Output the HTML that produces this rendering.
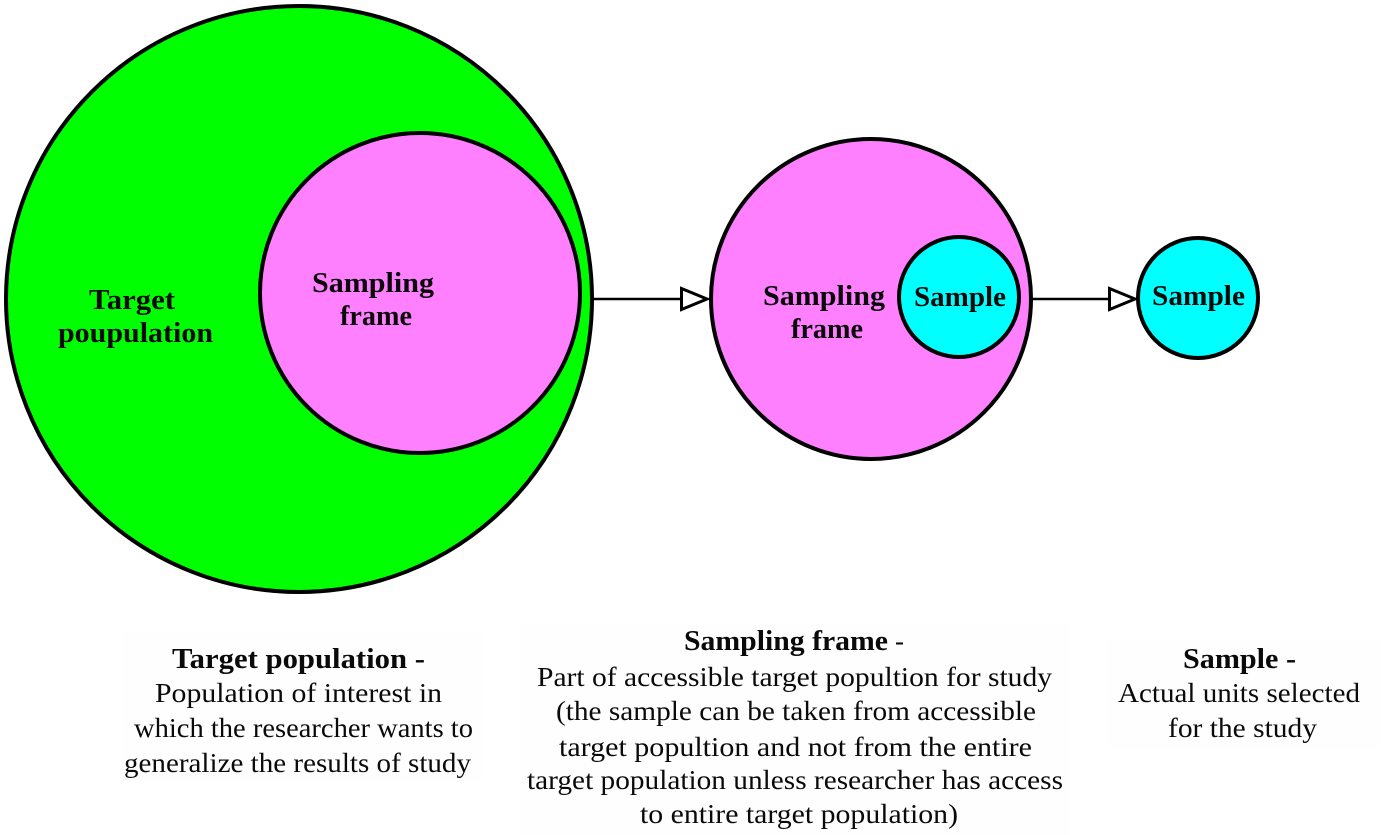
<!DOCTYPE html>
<html><head><meta charset="utf-8"><style>
html,body{margin:0;padding:0;background:#fff;width:1381px;height:835px;overflow:hidden}
svg{display:block}
text{font-family:"Liberation Serif",serif;fill:#0a0a0a;text-anchor:start}
.b{font-weight:bold;font-size:29px}
.t{font-size:27px}
</style></head><body>
<svg width="1381" height="835" viewBox="0 0 1381 835" xmlns="http://www.w3.org/2000/svg">
<rect width="1381" height="835" fill="#fff"/>
<rect x="122" y="632" width="360" height="150" fill="#fefefe"/>
<rect x="520" y="625" width="550" height="210" fill="#fefefe"/>
<rect x="1108" y="640" width="272" height="108" fill="#fefefe"/>
<g stroke="#000" stroke-width="4">
<circle cx="299" cy="299" r="293" fill="#00ff00"/>
<circle cx="420" cy="293" r="160" fill="#ff80ff"/>
<circle cx="871" cy="299" r="160" fill="#ff80ff"/>
<circle cx="959" cy="297" r="60" fill="#00ffff"/>
<circle cx="1198" cy="298" r="60" fill="#00ffff"/>
</g>
<g stroke="#000" fill="#fff">
<line x1="594" y1="299" x2="681" y2="299" stroke-width="2.5"/>
<polygon points="681.5,288.5 707,299 681.5,309.5" stroke-width="3"/>
<line x1="1033" y1="299" x2="1109" y2="299" stroke-width="2.5"/>
<polygon points="1109.5,288.5 1135,299 1109.5,309.5" stroke-width="3"/>
</g>
<text class="b" x="89" y="309" textLength="86" lengthAdjust="spacingAndGlyphs">Target</text>
<text class="b" x="58" y="342" textLength="155" lengthAdjust="spacingAndGlyphs">poupulation</text>
<text class="b" x="312" y="292" textLength="122" lengthAdjust="spacingAndGlyphs">Sampling</text>
<text class="b" x="340" y="325" textLength="72" lengthAdjust="spacingAndGlyphs">frame</text>
<text class="b" x="763" y="305" textLength="122" lengthAdjust="spacingAndGlyphs">Sampling</text>
<text class="b" x="791" y="338" textLength="72" lengthAdjust="spacingAndGlyphs">frame</text>
<text class="b" x="914" y="306" textLength="92" lengthAdjust="spacingAndGlyphs">Sample</text>
<text class="b" x="1152" y="305" textLength="93" lengthAdjust="spacingAndGlyphs">Sample</text>

<text class="b" x="172" y="668" textLength="253" lengthAdjust="spacingAndGlyphs">Target population -</text>
<text class="t" x="155" y="702" textLength="287" lengthAdjust="spacingAndGlyphs">Population of interest in</text>
<text class="t" x="134" y="737" textLength="339" lengthAdjust="spacingAndGlyphs">which the researcher wants to</text>
<text class="t" x="124" y="772" textLength="347" lengthAdjust="spacingAndGlyphs">generalize the results of study</text>

<text class="b" x="684" y="650" textLength="204" lengthAdjust="spacingAndGlyphs">Sampling frame</text>
<text class="t" x="895" y="650">-</text>
<text class="t" x="537" y="686" textLength="515" lengthAdjust="spacingAndGlyphs">Part of accessible target popultion for study</text>
<text class="t" x="556" y="720" textLength="480" lengthAdjust="spacingAndGlyphs">(the sample can be taken from accessible</text>
<text class="t" x="559" y="756" textLength="473" lengthAdjust="spacingAndGlyphs">target popultion and not from the entire</text>
<text class="t" x="527" y="789" textLength="536" lengthAdjust="spacingAndGlyphs">target population unless researcher has access</text>
<text class="t" x="640" y="823" textLength="318" lengthAdjust="spacingAndGlyphs">to entire target population)</text>

<text class="b" x="1183" y="668" textLength="113" lengthAdjust="spacingAndGlyphs">Sample -</text>
<text class="t" x="1118" y="702" textLength="242" lengthAdjust="spacingAndGlyphs">Actual units selected</text>
<text class="t" x="1168" y="737" textLength="149" lengthAdjust="spacingAndGlyphs">for the study</text>
</svg>
</body></html>
